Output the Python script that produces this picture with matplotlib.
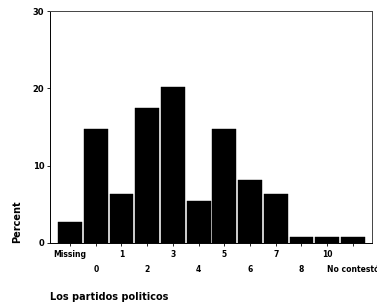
import matplotlib.pyplot as plt
import numpy as np

categories = ['Missing', '0', '1', '2', '3', '4', '5', '6', '7', '8', '10', 'No contestó']
percent = [2.7, 14.7, 6.4, 17.5, 20.2, 5.4, 14.7, 8.1, 6.4, 0.8, 0.8, 0.8]

fig = plt.figure(figsize=(3.77, 3.07), dpi=100)
ax = fig.add_axes([0.1326, 0.2085, 0.854, 0.7555])

x = np.arange(len(categories))
ax.bar(x, percent, width=0.93, color='black', edgecolor='black', linewidth=0.3)

ax.set_xlim(-0.78, len(categories) - 1 + 0.74)
ax.set_ylim(0, 30)
ax.set_yticks([0, 10, 20, 30])
ax.set_yticklabels(['0', '10', '20', '30'], fontsize=6, fontweight='bold')
ax.set_xticks(x)
ax.set_xticklabels([])
ax.tick_params(axis='both', length=2, width=0.6, pad=2)

# staggered category labels
for i, lab in enumerate(categories):
    yoff = -0.03 if i % 2 == 0 else -0.095
    ax.text(i, yoff, lab, transform=ax.get_xaxis_transform(), ha='center', va='top',
            fontsize=5.5, fontweight='bold', clip_on=False)

for s in ax.spines.values():
    s.set_linewidth(0.7)
    s.set_color('#444444')
ax.spines['left'].set_color('black')
ax.spines['bottom'].set_color('black')

fig.text(0.045, 0.21, 'Percent', rotation=90, ha='center', va='bottom',
         fontsize=7, fontweight='bold')
fig.text(0.133, 0.033, 'Los partidos politicos', ha='left', va='center',
         fontsize=7, fontweight='bold')

fig.savefig('out.png', dpi=100)
